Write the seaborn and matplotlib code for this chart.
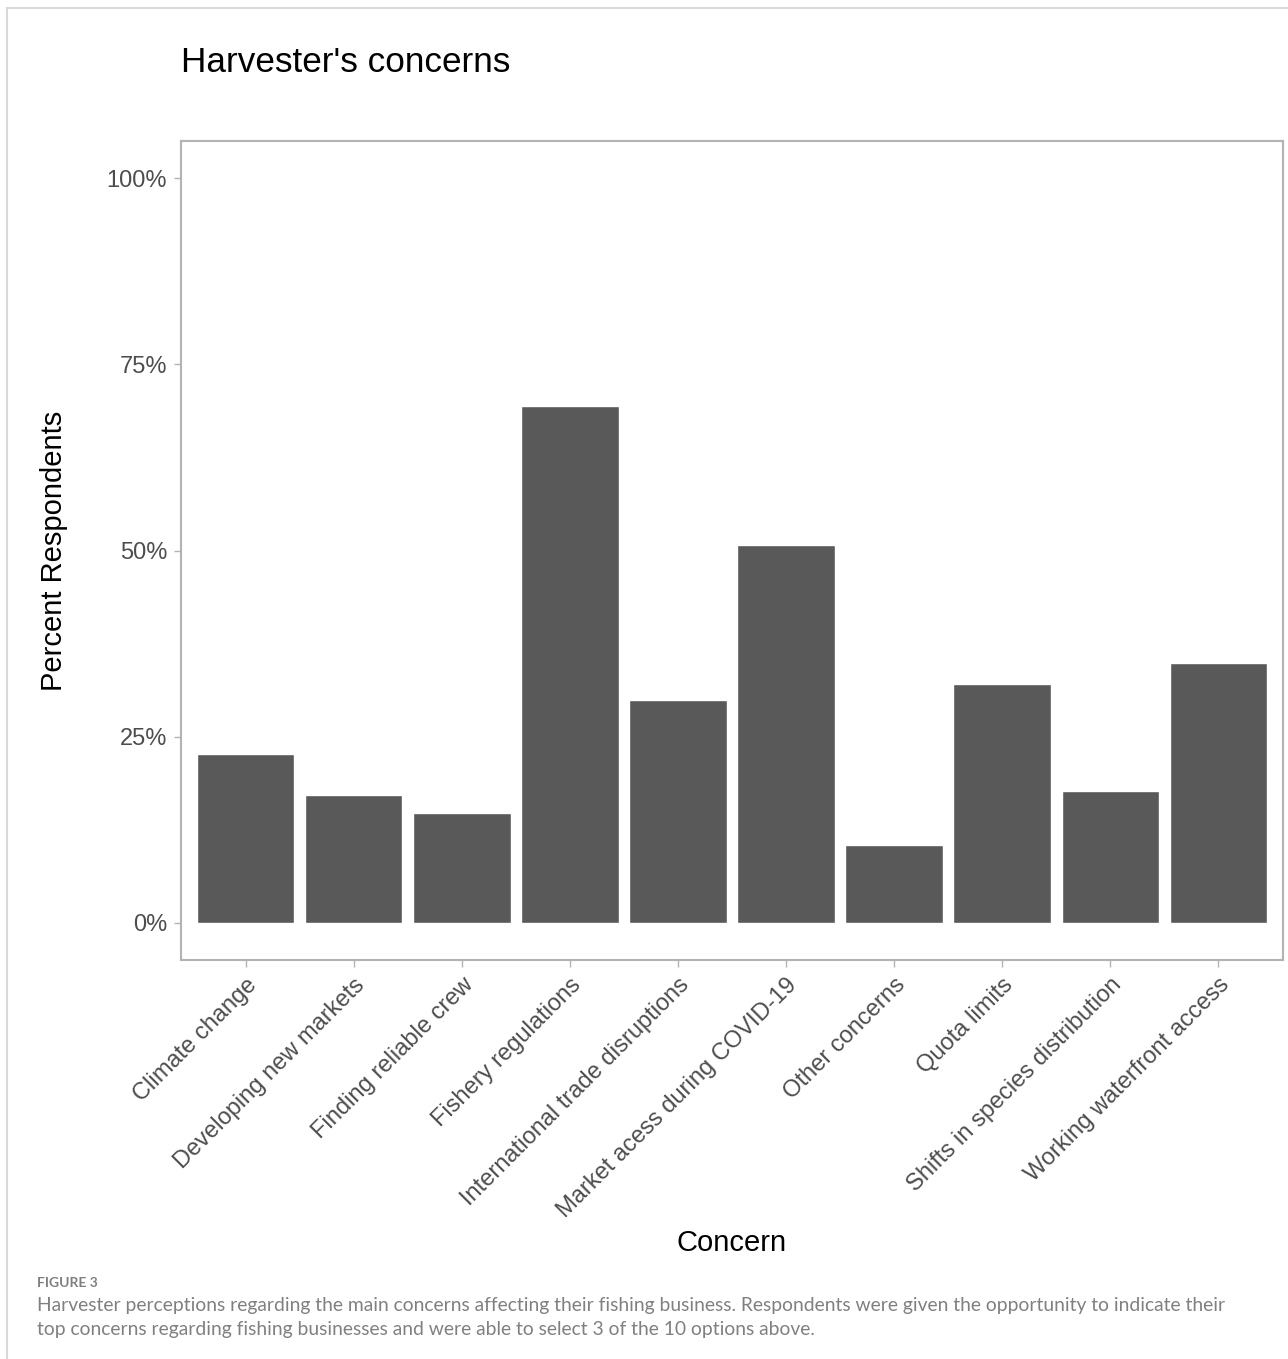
import matplotlib
matplotlib.use("Agg")
import matplotlib.pyplot as plt
import matplotlib.ticker as mticker
from matplotlib.patches import Rectangle
import seaborn as sns
import pandas as pd

concerns = [
    "Climate change",
    "Developing new markets",
    "Finding reliable crew",
    "Fishery regulations",
    "International trade disruptions",
    "Market acess during COVID-19",
    "Other concerns",
    "Quota limits",
    "Shifts in species distribution",
    "Working waterfront access",
]
percent_respondents = [0.227, 0.172, 0.148, 0.694, 0.299, 0.507, 0.105, 0.321, 0.177, 0.349]

y_ticks = [0, 0.25, 0.5, 0.75, 1.0]

caption_head = "FIGURE 3"
caption_lines = [
    "Harvester perceptions regarding the main concerns affecting their fishing business. Respondents were given the opportunity to indicate their",
    "top concerns regarding fishing businesses and were able to select 3 of the 10 options above.",
]

W, H = 1288, 1359

sns.set_style("white")
plt.rcParams["font.family"] = ["Liberation Sans", "DejaVu Sans"]

df = pd.DataFrame({"Concern": concerns, "Percent": percent_respondents})

fig = plt.figure(figsize=(W / 100, H / 100), dpi=100)
ax = fig.add_axes([181 / W, 1 - 960 / H, (1283 - 181) / W, (960 - 141) / H])

sns.barplot(data=df, x="Concern", y="Percent", color="#595959", saturation=1,
            width=0.9, ax=ax)

ax.set_xlim(-0.6, len(concerns) - 0.4)
ax.set_ylim(-0.05, 1.05)
ax.set_yticks(y_ticks)
ax.yaxis.set_major_formatter(mticker.PercentFormatter(xmax=1, decimals=0))

border = "#b3b3b3"
for s in ax.spines.values():
    s.set_color(border)
    s.set_linewidth(1.5)

ax.tick_params(axis="both", which="both", length=5, width=1, color=border,
               labelcolor="#4d4d4d", labelsize=17, pad=5, left=True, bottom=True)
ax.set_xticks(range(len(concerns)))
ax.set_xticklabels(concerns, rotation=45, ha="right", va="top", rotation_mode="anchor")

ax.set_ylabel("Percent Respondents", fontsize=21, color="black")
ax.set_xlabel("Concern", fontsize=21, color="black", va="top")
ax.yaxis.set_label_coords((68 - 181) / (1283 - 181), 0.5)
ax.xaxis.set_label_coords(0.5, (960 - 1229) / (960 - 141))

fig.text(181 / W, 1 - 72 / H, "Harvester's concerns", fontsize=25.3, color="black",
         ha="left", va="baseline")

# light frame around the whole figure
fig.patches.append(Rectangle((7 / W, -0.01), 1.02, 1 - 8 / H + 0.01,
                             transform=fig.transFigure, fill=False,
                             edgecolor="#d9d9d9", linewidth=1.5))

fig.text(37 / W, 1 - 1287 / H, caption_head, fontsize=10, color="#7f7f7f",
         family=["Lato", "DejaVu Sans"], weight="bold", ha="left", va="baseline")
for i, line in enumerate(caption_lines):
    fig.text(37 / W, 1 - (1311 + 24 * i) / H, line, fontsize=13.9, color="#808080",
             family=["Lato", "DejaVu Sans"], ha="left", va="baseline")

fig.savefig("out.png", dpi=100)
